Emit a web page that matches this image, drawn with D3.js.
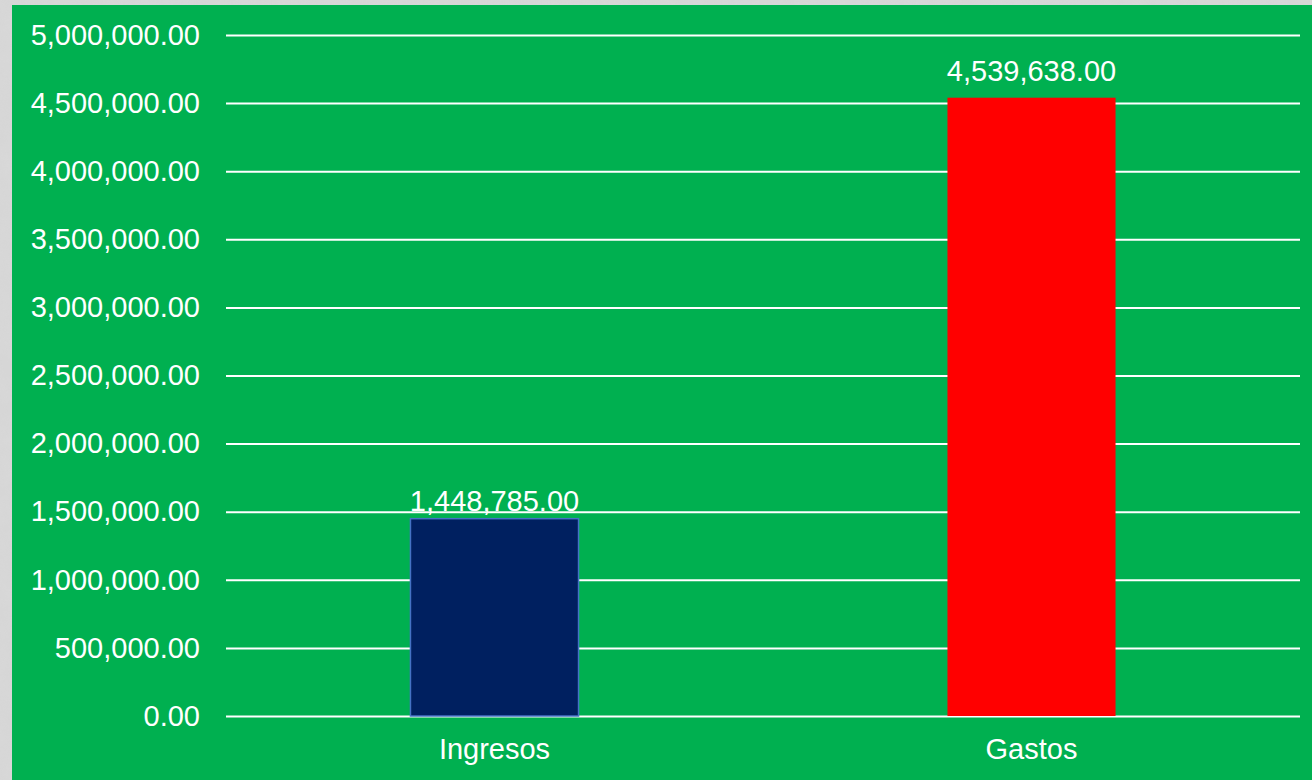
<!DOCTYPE html>
<html>
<head>
<meta charset="utf-8">
<script src="https://cdn.jsdelivr.net/npm/d3@7.9.0/dist/d3.min.js"></script>
<style>
  html, body { margin: 0; padding: 0; background: #d9d9d9; }
  svg { display: block; }
  text { font-family: "Liberation Sans", Arial, sans-serif; fill: #fff; }
</style>
</head>
<body>
<svg id="chart" width="1312" height="780"></svg>
<script>
const categories = ['Ingresos', 'Gastos'];
const values = [1448785, 4539638];
const barColors = ['#002060', '#ff0000'];
const barStrokes = ['#4472c4', 'none'];
const tickValues = [0, 500000, 1000000, 1500000, 2000000, 2500000, 3000000, 3500000, 4000000, 4500000, 5000000];
const labelGap = [8, 17];

const W = 1312, H = 780;
const margin = { top: 35, right: 12, bottom: 64, left: 226 };
const fontSize = 29;
const fmt = d3.format(',.2f');

const svg = d3.select('#chart');

// marble-ish gray backdrop
const defs = svg.append('defs');
const f = defs.append('filter').attr('id', 'marble').attr('x', 0).attr('y', 0).attr('width', 1).attr('height', 1);
f.append('feTurbulence').attr('type', 'fractalNoise').attr('baseFrequency', 0.04).attr('numOctaves', 4).attr('seed', 3);
f.append('feColorMatrix').attr('type', 'matrix')
  .attr('values', '0 0 0 0 0.7  0 0 0 0 0.7  0 0 0 0 0.7  1.2 0 0 0 -0.3');
svg.append('rect').attr('width', W).attr('height', H).attr('fill', '#d6d6d6');
svg.append('rect').attr('width', W).attr('height', H).attr('filter', 'url(#marble)').attr('opacity', 0.7);

// green panel
svg.append('rect').attr('x', 12).attr('y', 5).attr('width', W - 12).attr('height', H - 5).attr('fill', '#00b050');

const x = d3.scaleBand()
  .domain(categories)
  .range([margin.left, W - margin.right])
  .paddingInner(0.687)
  .paddingOuter(0.687 / 2);

const y = d3.scaleLinear()
  .domain([0, 5000000])
  .range([H - margin.bottom, margin.top]);

// gridlines + tick labels
const yAxis = svg.append('g')
  .attr('transform', `translate(${margin.left},0)`)
  .call(d3.axisLeft(y).tickValues(tickValues).tickFormat(fmt).tickSize(-(W - margin.right - margin.left)).tickPadding(26));
yAxis.select('.domain').remove();
yAxis.selectAll('.tick line').attr('stroke', '#fff').attr('stroke-width', 2);
yAxis.selectAll('.tick text').attr('font-size', fontSize).attr('fill', '#fff')
  .attr('font-family', '"Liberation Sans", Arial, sans-serif');

// bars
svg.append('g').selectAll('rect')
  .data(values)
  .join('rect')
  .attr('x', (d, i) => x(categories[i]))
  .attr('y', d => y(d))
  .attr('width', x.bandwidth())
  .attr('height', d => y(0) - y(d))
  .attr('fill', (d, i) => barColors[i])
  .attr('stroke', (d, i) => barStrokes[i])
  .attr('stroke-width', 1.5);

// value labels
svg.append('g').selectAll('text')
  .data(values)
  .join('text')
  .attr('x', (d, i) => x(categories[i]) + x.bandwidth() / 2)
  .attr('y', (d, i) => y(d) - labelGap[i])
  .attr('text-anchor', 'middle')
  .attr('font-size', fontSize)
  .text(d => fmt(d));

// category labels
svg.append('g').selectAll('text')
  .data(categories)
  .join('text')
  .attr('x', d => x(d) + x.bandwidth() / 2)
  .attr('y', H - 21)
  .attr('text-anchor', 'middle')
  .attr('font-size', fontSize)
  .text(d => d);
</script>
</body>
</html>
